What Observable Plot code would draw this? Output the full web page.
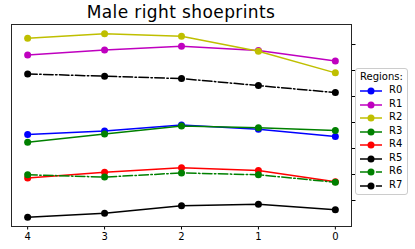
<!DOCTYPE html>
<html><head><meta charset="utf-8">
<script src="https://cdn.jsdelivr.net/npm/d3@7"></script>
<script src="https://cdn.jsdelivr.net/npm/@observablehq/plot@0.6"></script>
<style>
body{margin:0;background:#fff;font-family:"DejaVu Sans",sans-serif}
#wrap{position:relative;width:415px;height:249px;overflow:hidden}
#chart{position:absolute;left:0;top:0}
#title{position:absolute;left:11px;width:340px;top:1px;text-align:center;font-size:17px;letter-spacing:0.4px;line-height:22px;color:#000}
#legend{position:absolute;left:355px;top:68px;width:53px;height:127px;box-sizing:border-box;border:1px solid #ccc;border-radius:3px;background:#fff;font-size:10px;color:#000}
#legend .t{position:absolute;left:4px;top:2px}
#legend .row{position:absolute;left:0;height:12px}
#legend .row svg{position:absolute;left:3px;top:0}
#legend .row span{position:absolute;left:33px;top:-1px}
</style></head>
<body>
<div id="wrap">
  <div id="chart"></div>
  <div id="title">Male right shoeprints</div>
  <div id="legend"><div class="t">Regions:</div></div>
</div>
<script>
const steps = [4, 3, 2, 1, 0];
const regions = ["R0", "R1", "R2", "R3", "R4", "R5", "R6", "R7"];
const colors = ["#0000ff", "#bf00bf", "#bfbf00", "#008000", "#ff0000", "#000000", "#008000", "#000000"];
const dashed = [false, false, false, false, false, false, true, true];
const R0 = [2.54, 2.67, 2.90, 2.74, 2.46];
const R1 = [5.60, 5.79, 5.93, 5.77, 5.37];
const R2 = [6.24, 6.41, 6.32, 5.74, 4.91];
const R3 = [2.24, 2.56, 2.87, 2.80, 2.69];
const R4 = [0.87, 1.09, 1.26, 1.15, 0.72];
const R5 = [-0.64, -0.49, -0.20, -0.14, -0.36];
const R6 = [0.99, 0.90, 1.06, 0.99, 0.70];
const R7 = [4.87, 4.78, 4.69, 4.42, 4.15];
const yTicks = [0, 1, 2, 3, 4, 5, 6];

const series = [R0, R1, R2, R3, R4, R5, R6, R7];
const data = [];
series.forEach((vals, i) => vals.forEach((v, j) => data.push({region: regions[i], step: steps[j], value: v})));

const dashDot = "9.6,2.4,1.5,2.4";
const marks = [];
regions.forEach((r, i) => {
  const d = data.filter(e => e.region === r);
  marks.push(Plot.line(d, {x: "step", y: "value", stroke: colors[i], strokeWidth: 1.5, strokeDasharray: dashed[i] ? dashDot : null}));
  marks.push(Plot.dot(d, {x: "step", y: "value", fill: colors[i], r: 3.5, stroke: "none"}));
});

const chart = Plot.plot({
  width: 415, height: 249,
  marginLeft: 11, marginRight: 64, marginTop: 24, marginBottom: 23,
  style: {fontFamily: "DejaVu Sans, sans-serif", fontSize: "10px", color: "#000", background: "transparent"},
  x: {domain: [4.21, -0.21]},
  y: {domain: [-1, 6.77]},
  marks: [
    Plot.axisX({ticks: steps, tickFormat: d => String(d), tickSize: 3.5, tickPadding: 3, label: null, fontSize: 10}),
    Plot.axisY({anchor: "right", ticks: yTicks, tickFormat: () => "", tickSize: 3.5, label: null}),
    ...marks,
    Plot.frame({stroke: "#262626", strokeWidth: 1})
  ]
});
document.getElementById("chart").appendChild(chart);

// legend
const leg = document.getElementById("legend");
regions.forEach((r, i) => {
  const row = document.createElement("div");
  row.className = "row";
  row.style.top = (16 + i * 13.5) + "px";
  const ns = "http://www.w3.org/2000/svg";
  const s = document.createElementNS(ns, "svg");
  s.setAttribute("width", "26"); s.setAttribute("height", "12");
  const ln = document.createElementNS(ns, "line");
  ln.setAttribute("x1", "1"); ln.setAttribute("x2", "23"); ln.setAttribute("y1", "6"); ln.setAttribute("y2", "6");
  ln.setAttribute("stroke", colors[i]); ln.setAttribute("stroke-width", "1.5");
  if (dashed[i]) ln.setAttribute("stroke-dasharray", dashDot);
  const c = document.createElementNS(ns, "circle");
  c.setAttribute("cx", "12"); c.setAttribute("cy", "6"); c.setAttribute("r", "3.5"); c.setAttribute("fill", colors[i]);
  s.appendChild(ln); s.appendChild(c);
  const sp = document.createElement("span");
  sp.textContent = r;
  row.appendChild(s); row.appendChild(sp);
  leg.appendChild(row);
});
</script>
</body></html>
